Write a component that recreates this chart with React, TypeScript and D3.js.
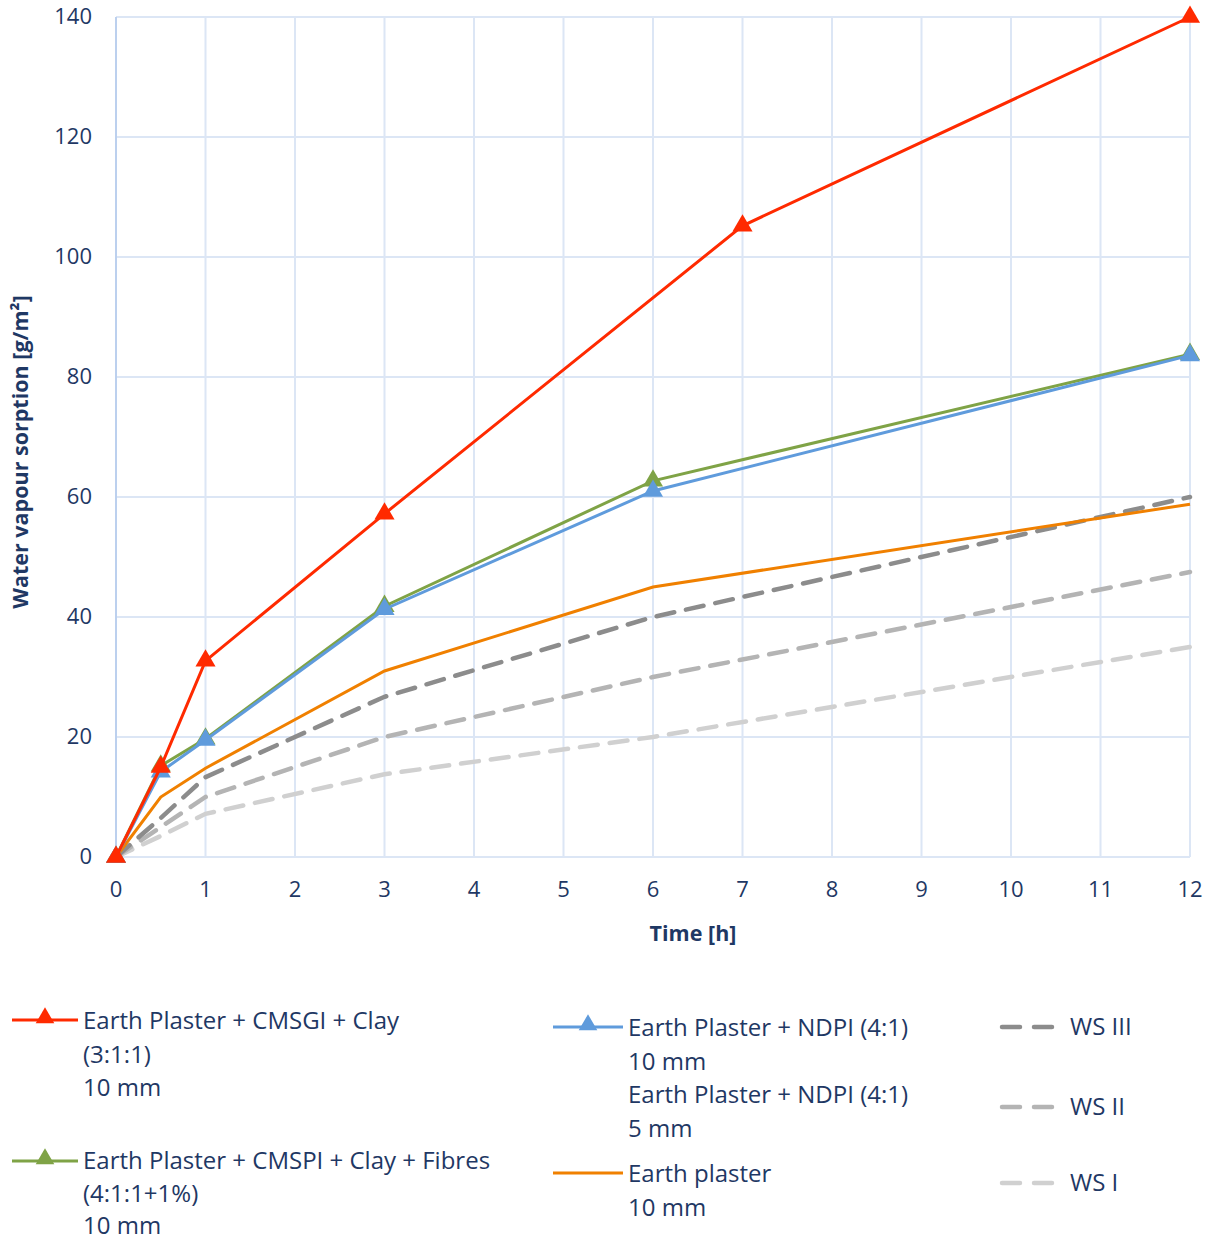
import React from "react";
import * as d3 from "d3";

const times = [0, 0.5, 1, 3, 6, 12];
const redTimes = [0, 0.5, 1, 3, 7, 12];
const redValues = [0, 15, 32.7, 57.2, 105.2, 140];
const greenValues = [0, 15.2, 19.7, 41.8, 62.7, 83.8];
const blueValues = [0, 14.2, 19.5, 41.3, 61, 83.6];
const orangeValues = [0, 10, 14.8, 31, 45, 58.8];
const ws3Values = [0, 6.5, 13.3, 26.7, 40, 60];
const ws2Values = [0, 5, 10, 20, 30, 47.5];
const ws1Values = [0, 3.5, 7.2, 13.8, 20, 35];
const xTicks = [0, 1, 2, 3, 4, 5, 6, 7, 8, 9, 10, 11, 12];
const yTicks = [0, 20, 40, 60, 80, 100, 120, 140];

const FONT = "'Open Sans', sans-serif";
const TEXT = "#1f3864";

export default function App() {
  const W = 1215, H = 1243;
  const x = d3.scaleLinear().domain([0, 12]).range([116, 1190]);
  const y = d3.scaleLinear().domain([0, 140]).range([857, 17]);
  const line = d3.line<[number, number]>().x(d => x(d[0])).y(d => y(d[1]));
  const mk = (ts: number[], vs: number[]) => ts.map((t, i) => [t, vs[i]] as [number, number]);
  const tri = d3.symbol().type(d3.symbolTriangle).size(175)();
  const triL = d3.symbol().type(d3.symbolTriangle).size(150)();

  const dashed = [
    { vals: ws1Values, color: "#d0d0d0" },
    { vals: ws2Values, color: "#b4b4b4" },
    { vals: ws3Values, color: "#8c8c8c" },
  ];
  const solid = [
    { ts: times, vals: orangeValues, color: "#f08000", marker: false },
    { ts: times, vals: greenValues, color: "#7fa346", marker: true },
    { ts: times, vals: blueValues, color: "#5f9bdc", marker: true },
    { ts: redTimes, vals: redValues, color: "#ff2a00", marker: true },
  ];

  const legendText = (xx: number, yy: number, lines: string[], gap = 33.5) =>
    lines.map((l, i) => (
      <text key={i} x={xx} y={yy + i * gap} fontSize={24} fill={TEXT} fontFamily={FONT} dominantBaseline="middle">{l}</text>
    ));

  return (
    <svg width={W} height={H} style={{ display: "block", position: "absolute", left: 0, top: 0 }}>
      <rect width={W} height={H} fill="#fff" />
      {yTicks.map(t => (
        <line key={"gy" + t} x1={116} x2={1190} y1={y(t)} y2={y(t)} stroke="#dce6f5" strokeWidth={2} />
      ))}
      {xTicks.map(t => (
        <line key={"gx" + t} x1={x(t)} x2={x(t)} y1={17} y2={857} stroke={t === 0 ? "#bcd0ee" : "#dce6f5"} strokeWidth={2} />
      ))}
      {yTicks.map(t => (
        <text key={"ty" + t} x={92} y={y(t) + 1} textAnchor="end" dominantBaseline="middle" fontSize={22} fill={TEXT} fontFamily={FONT}>{t}</text>
      ))}
      {xTicks.map(t => (
        <text key={"tx" + t} x={x(t)} y={891} textAnchor="middle" dominantBaseline="middle" fontSize={22} fill={TEXT} fontFamily={FONT}>{t}</text>
      ))}
      <text x={693} y={935} textAnchor="middle" dominantBaseline="middle" fontSize={21.5} fontWeight="bold" fill={TEXT} fontFamily={FONT}>Time [h]</text>
      <text transform={`translate(22,452) rotate(-90)`} textAnchor="middle" dominantBaseline="middle" fontSize={21.5} fontWeight="bold" fill={TEXT} fontFamily={FONT}>Water vapour sorption [g/m²]</text>

      {dashed.map((s, i) => (
        <path key={"d" + i} d={line(mk(times, s.vals)) || ""} fill="none" stroke={s.color} strokeWidth={4.5} strokeDasharray="18 12" strokeLinecap="round" />
      ))}
      {solid.map((s, i) => (
        <g key={"s" + i}>
          <path d={line(mk(s.ts, s.vals)) || ""} fill="none" stroke={s.color} strokeWidth={3} />
          {s.marker && s.ts.map((t, j) => (
            <path key={j} d={tri || ""} transform={`translate(${x(t)},${y(s.vals[j])})`} fill={s.color} />
          ))}
        </g>
      ))}

      {/* Legend */}
      <line x1={12} x2={78} y1={1020} y2={1020} stroke="#ff2a00" strokeWidth={3} />
      <path d={triL || ""} transform="translate(45,1018)" fill="#ff2a00" />
      {legendText(83, 1023, ["Earth Plaster + CMSGI + Clay", "(3:1:1)", "10 mm"])}

      <line x1={12} x2={78} y1={1161} y2={1161} stroke="#7fa346" strokeWidth={3} />
      <path d={triL || ""} transform="translate(45,1159)" fill="#7fa346" />
      {legendText(83, 1163, ["Earth Plaster + CMSPI + Clay + Fibres", "(4:1:1+1%)", "10 mm"], 32.5)}

      <line x1={553} x2={623} y1={1027} y2={1027} stroke="#5f9bdc" strokeWidth={3} />
      <path d={triL || ""} transform="translate(588,1025)" fill="#5f9bdc" />
      {legendText(628, 1030, ["Earth Plaster + NDPI (4:1)", "10 mm", "Earth Plaster + NDPI (4:1)", "5 mm"])}

      <line x1={553} x2={623} y1={1173} y2={1173} stroke="#f08000" strokeWidth={3} />
      {legendText(628, 1176, ["Earth plaster", "10 mm"])}

      {[{ c: "#8c8c8c", yy: 1027, l: "WS III" }, { c: "#b4b4b4", yy: 1107, l: "WS II" }, { c: "#d0d0d0", yy: 1183, l: "WS I" }].map((e, i) => (
        <g key={"lw" + i}>
          <line x1={1002} x2={1058} y1={e.yy} y2={e.yy} stroke={e.c} strokeWidth={4.5} strokeDasharray="18 14" strokeLinecap="round" />
          <text x={1070} y={e.yy + 2} fontSize={24} fill={TEXT} fontFamily={FONT} dominantBaseline="middle">{e.l}</text>
        </g>
      ))}
    </svg>
  );
}
